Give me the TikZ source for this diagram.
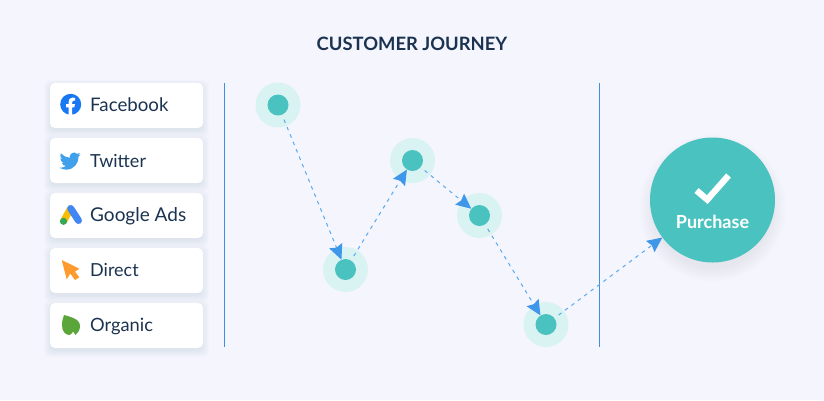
\documentclass[tikz,border=0pt]{standalone}
\usepackage{fontspec}
\setmainfont{Lato}
\usetikzlibrary{arrows.meta,svg.path}
\definecolor{bgc}{HTML}{F4F5FD}
\definecolor{teal}{HTML}{4AC3C0}
\definecolor{halo}{HTML}{D9F3F3}
\definecolor{ink}{HTML}{1B3350}
\definecolor{rule}{HTML}{3F8FE0}
\definecolor{arrowc}{HTML}{3F97EA}
\definecolor{dashc}{HTML}{5AA9EE}
\definecolor{shadowc}{HTML}{3A4A80}
\tikzset{
  card/.style={rectangle,rounded corners=5pt,fill=white,minimum width=153pt,minimum height=45pt,inner sep=0pt},
  cardtext/.style={anchor=base west,inner sep=0pt,text=ink,font=\fontsize{18}{20}\selectfont},
  haloc/.style={circle,fill=halo,minimum size=45pt,inner sep=0pt},
  dot/.style={circle,fill=teal,minimum size=21pt,inner sep=0pt},
  goal/.style={circle,fill=teal,minimum size=125pt,inner sep=0pt},
  journey/.style={draw=dashc,line width=1pt,dash pattern=on 3.6pt off 4.4pt,shorten <=5pt,
    -{Stealth[length=15pt,width=14pt,inset=2pt,color=arrowc,sep=0pt]}},
  divider/.style={draw=rule,line width=.8pt}
}
\newcommand{\cardshadow}[1]{%
  \foreach \g in {8,7,...,0}{%
    \fill[shadowc,opacity=.012,rounded corners=6pt]
      (52-\g,#1+5-\g) rectangle (201+\g,#1+45+1+\g);}}
\begin{document}
\begin{tikzpicture}[x=1pt,y=-1pt]
\useasboundingbox (0,0) rectangle (824,400);
\fill[bgc] (0,0) rectangle (824,400);

\node[anchor=base,inner sep=0pt,text=ink,font=\fontsize{18.4}{20}\selectfont\bfseries] (title) at (412,50.5) {CUSTOMER JOURNEY};

% cards
\cardshadow{83}\cardshadow{138}\cardshadow{193}\cardshadow{248}\cardshadow{303}
\node[card] (c1) at (126.5,105.5) {};
\node[card] (c2) at (126.5,160.5) {};
\node[card] (c3) at (126.5,215.5) {};
\node[card] (c4) at (126.5,270.5) {};
\node[card] (c5) at (126.5,325.5) {};
\node[cardtext,font=\fontsize{18.7}{20}\selectfont] (t1) at (90,111) {Facebook};
\node[cardtext] (t2) at (90,167) {Twitter};
\node[cardtext,font=\fontsize{19}{20}\selectfont] (t3) at (90,221.5) {Google Ads};
\node[cardtext] (t4) at (90,276) {Direct};
\node[cardtext,font=\fontsize{18.3}{20}\selectfont] (t5) at (90,331.5) {Organic};

% facebook icon
\fill[fill={rgb,255:red,24;green,119;blue,242}] (70.7,104.3) circle (10.5);
\fill[white] (68.6,114.8) -- (68.6,107.3) -- (66,107.3) -- (66,104.2) -- (68.6,104.2) -- (68.6,101.8)
  .. controls (68.6,99) and (70.2,97.6) .. (72.6,97.6) -- (75,97.9) -- (75,100.5) -- (73.6,100.5)
  .. controls (72.4,100.5) and (72,101.2) .. (72,102) -- (72,104.2) -- (74.9,104.2) -- (74.4,107.3) -- (72,107.3) -- (72,114.8) -- cycle;

% twitter icon
\begin{scope}[shift={(59.5,150.5)},xscale=.88,yscale=-.88]
\fill[fill={rgb,255:red,65;green,160;blue,235}] svg "M 23.953 4.57 C 23.05 4.97 22.1 5.22 21.128 5.345 C 22.14 4.74 22.92 3.78 23.291 2.622 C 22.34 3.177 21.286 3.581 20.164 3.806 C 18.3 1.82 15.2 1.72 13.2 3.6 C 11.9 4.8 11.4 6.6 11.78 8.288 C 7.69 8.095 4.067 6.13 1.64 3.162 C 1.2 3.9 .974 4.76 .974 5.637 C .974 7.347 1.844 8.85 3.162 9.733 C 2.38 9.71 1.62 9.5 .934 9.117 L .934 9.177 C .934 11.52 2.6 13.53 4.88 14 C 4.16 14.2 3.41 14.23 2.668 14.09 C 3.3 16.1 5.16 17.46 7.272 17.5 C 5.53 18.87 3.38 19.61 1.17 19.605 C .78 19.605 .391 19.582 0 19.538 C 2.26 20.98 4.88 21.75 7.557 21.747 C 16.61 21.747 21.555 14.25 21.555 7.762 C 21.555 7.552 21.555 7.342 21.54 7.132 C 22.5 6.44 23.33 5.58 24 4.59 Z";
\end{scope}

% google ads icon
\draw[line width=7pt,line cap=round,color={rgb,255:red,251;green,188;blue,4}] (70,209.5) -- (64,220.5);
\draw[line width=7pt,line cap=round,color={rgb,255:red,66;green,133;blue,244}] (70.7,208.5) -- (78.5,220.5);
\fill[fill={rgb,255:red,52;green,168;blue,83}] (63.5,221.3) circle (3.6);

% direct icon
\fill[fill={rgb,255:red,255;green,154;blue,46}] (61.7,260) -- (79.3,268.7) -- (75,271.7) -- (79.3,277.3) -- (75,280) -- (70.3,273.5) -- (66.7,279.3) -- cycle;

% organic icon
\fill[fill={rgb,255:red,91;green,166;blue,59}] (64,315) .. controls (71,317) and (80,319) .. (80,326)
  .. controls (80,330) and (78,333) .. (75.5,335) -- (73.3,331.5)
  .. controls (72,333) and (71,334.5) .. (69.5,335)
  .. controls (65,335) and (62,331) .. (62,325) .. controls (62,321) and (63,318) .. (64,315) -- cycle;

% dividers
\coordinate (d1a) at (224.5,83); \coordinate (d1b) at (224.5,347);
\coordinate (d2a) at (599.5,83); \coordinate (d2b) at (599.5,347);
\draw[divider] (d1a) -- (d1b);
\draw[divider] (d2a) -- (d2b);

% purchase
\foreach \g in {14,13,...,0}{\fill[shadowc,opacity=.004] (712.5,208) circle (60+\g);}
\node[goal] (p) at (712.5,200) {};
\node[anchor=base,inner sep=0pt,text=white,font=\fontsize{18}{20}\selectfont\bfseries] (pt) at (712.5,228) {Purchase};
\draw[white,line width=6.3pt,miter limit=10] (696.5,190.5) -- (707.3,199.6) -- (728.5,175.5);

% journey points
\node[haloc] (h1) at (278,105) {};
\node[haloc] (h2) at (345.5,269.5) {};
\node[haloc] (h3) at (412.5,160.5) {};
\node[haloc] (h4) at (479.5,215.5) {};
\node[haloc] (h5) at (546,324.5) {};
\node[dot] (n1) at (278,105) {};
\node[dot] (n2) at (345.5,269.5) {};
\node[dot] (n3) at (412.5,160.5) {};
\node[dot] (n4) at (479.5,215.5) {};
\node[dot] (n5) at (546,324.5) {};
\draw[journey] (n1) -- (n2);
\draw[journey] (n2) -- (n3);
\draw[journey] (n3) -- (n4);
\draw[journey] (n4) -- (n5);
\draw[journey] (n5) -- (p);
\end{tikzpicture}
\end{document}
